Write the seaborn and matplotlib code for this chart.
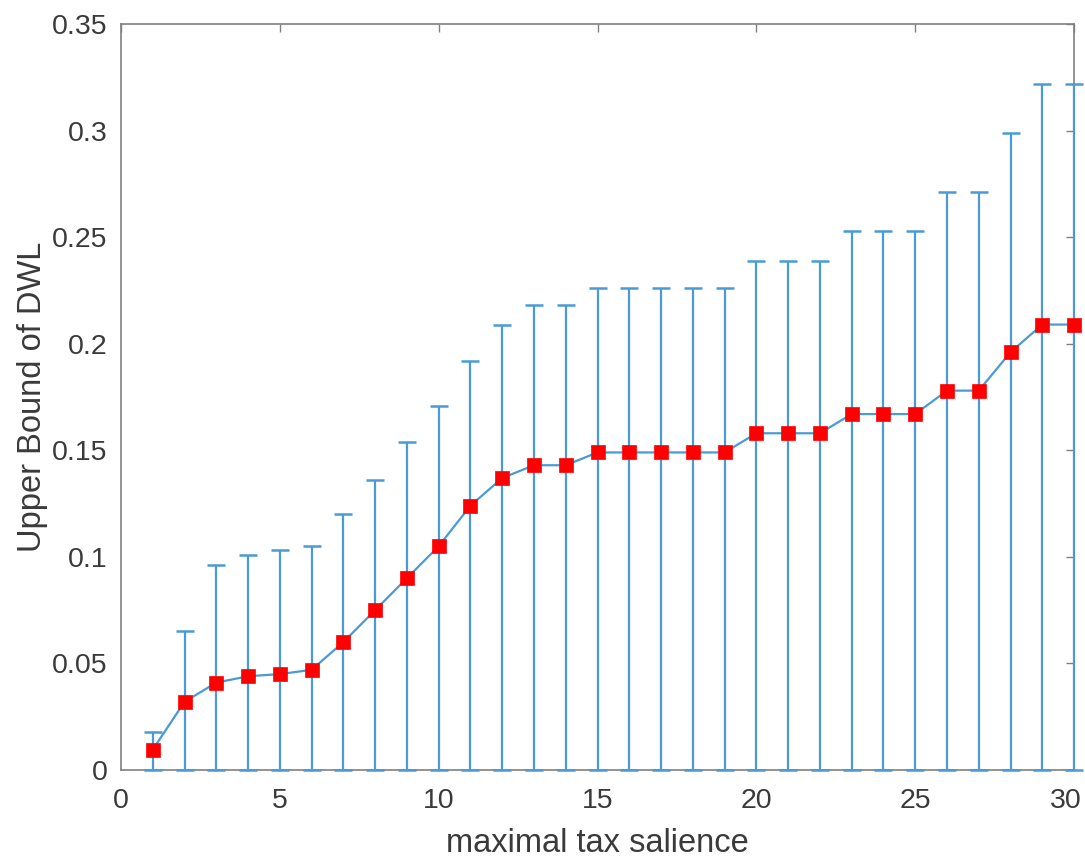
import numpy as np
import pandas as pd
import matplotlib
matplotlib.use("Agg")
import matplotlib.pyplot as plt
import matplotlib.transforms as mtransforms
import seaborn as sns

# --- data ---
salience = list(range(1, 31))
dwl_mean = [0.0095, 0.032, 0.041, 0.044, 0.045, 0.047, 0.060, 0.075, 0.090, 0.105,
            0.124, 0.137, 0.143, 0.143, 0.149, 0.149, 0.149, 0.149, 0.149, 0.158,
            0.158, 0.158, 0.167, 0.167, 0.167, 0.178, 0.178, 0.196, 0.209, 0.209]
dwl_upper = [0.018, 0.065, 0.096, 0.101, 0.103, 0.105, 0.120, 0.136, 0.154, 0.171,
             0.192, 0.209, 0.218, 0.218, 0.226, 0.226, 0.226, 0.226, 0.226, 0.239,
             0.239, 0.239, 0.253, 0.253, 0.253, 0.271, 0.271, 0.299, 0.322, 0.322]
dwl_lower = [0.0] * 30

x_ticks = [0, 5, 10, 15, 20, 25, 30]
y_ticks = [0, 0.05, 0.1, 0.15, 0.2, 0.25, 0.3, 0.35]
y_ticklabels = ["0", "0.05", "0.1", "0.15", "0.2", "0.25", "0.3", "0.35"]

df = pd.DataFrame({"salience": salience, "dwl": dwl_mean,
                   "upper": dwl_upper, "lower": dwl_lower})

# --- style ---
sns.set_style("white")
plt.rcParams["font.family"] = ["Liberation Sans", "DejaVu Sans"]

BLUE = "#4a9ad6"
GRAY = "#808080"
TEXT = "#3a3a3a"

fig = plt.figure(figsize=(10.85, 8.59), dpi=100)
ax = fig.add_axes([0.1115, 0.1036, 0.8784, 0.8684])

yerr = np.vstack([df["dwl"] - df["lower"], df["upper"] - df["dwl"]])
ax.errorbar(df["salience"], df["dwl"], yerr=yerr, fmt="none", ecolor=BLUE,
            elinewidth=1.6, capsize=6.5, capthick=1.8, zorder=3, clip_on=False)
sns.lineplot(data=df, x="salience", y="dwl", ax=ax, color=BLUE, linewidth=1.6,
             marker="s", markersize=10, markerfacecolor="red",
             markeredgecolor="red", markeredgewidth=0.5, zorder=4, clip_on=False)

ax.set_xlim(0, 30)
ax.set_ylim(0, 0.35)
ax.set_xticks(x_ticks)
ax.set_yticks(y_ticks)
ax.set_yticklabels(y_ticklabels)

ax.set_xlabel("maximal tax salience", fontsize=23.5, color=TEXT, labelpad=10)
ax.set_ylabel("Upper Bound of DWL", fontsize=23.5, color=TEXT, labelpad=3)

ax.tick_params(axis="both", which="both", direction="in", length=6, width=1,
               colors=GRAY, labelcolor=TEXT, labelsize=20.5,
               top=True, right=True)
ax.tick_params(axis="x", pad=13)
ax.tick_params(axis="y", pad=9.5)
for sp in ax.spines.values():
    sp.set_visible(True)
    sp.set_color(GRAY)
    sp.set_linewidth(1.2)

# keep the last x tick label inside the figure (right aligned, nudged 8px)
last = ax.xaxis.get_major_ticks()[-1].label1
last.set_horizontalalignment("right")
last.set_transform(last.get_transform() +
                   mtransforms.ScaledTranslation(0.08, 0, fig.dpi_scale_trans))

fig.savefig("out.png", dpi=100)
